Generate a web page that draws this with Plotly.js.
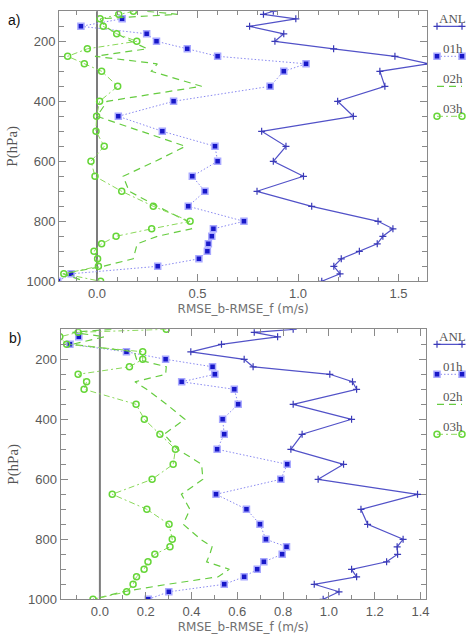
<!DOCTYPE html>
<html>
<head>
<meta charset="utf-8">
<script src="https://cdn.plot.ly/plotly-3.0.1.min.js"></script>
<style>
  html, body { margin: 0; padding: 0; background: #ffffff; }
  #chart { width: 473px; height: 639px; }
</style>
</head>
<body>
<div id="chart"></div>
<script>
// Pressure levels (hPa) shared by every profile
const levels = [100, 110, 125, 150, 175, 200, 225, 250, 275, 300, 350, 400, 450, 500,
                550, 600, 650, 700, 750, 800, 825, 850, 875, 900, 925, 950, 975, 1000];

// Series names, in legend order
const seriesNames = ['ANL', '01h', '02h', '03h'];

// Panel a) RMSE_b - RMSE_f (m/s)
const a_ANL = [0.877, 0.828, 0.989, 0.759, 0.929, 0.885, 1.177, 1.482, 1.648, 1.407, 1.432, 1.197, 1.275, 0.819,
               0.940, 0.877, 1.027, 0.796, 1.068, 1.398, 1.472, 1.422, 1.394, 1.305, 1.215, 1.178, 1.209, 1.118];
const a_01h = [null, null, 0.125, -0.080, 0.247, 0.296, 0.449, 0.600, 1.040, 0.929, 0.861, 0.381, 0.106, 0.325,
               0.587, 0.600, 0.474, 0.537, 0.454, 0.731, 0.579, 0.571, 0.554, 0.549, 0.507, 0.302, -0.129, -0.195];
const a_02h = [0.250, 0.400, 0.015, 0.040, 0.100, 0.170, 0.250, -0.010, 0.300, 0.270, 0.520, 0.050, 0.000, 0.220,
               0.440, 0.290, 0.130, 0.160, 0.300, 0.450, 0.470, 0.300, 0.200, 0.190, 0.180, 0.030, -0.170, -0.060];
const a_03h = [0.181, 0.108, 0.015, 0.031, 0.098, 0.198, -0.048, -0.146, -0.063, 0.023, 0.103, 0.013, -0.002, -0.005,
               0.036, -0.030, -0.010, 0.123, 0.280, 0.463, 0.272, 0.095, 0.023, -0.015, 0.003, 0.007, -0.165, 0.018];

// Panel b) RMSE_b - RMSE_f (m/s)
const b_ANL = [0.844, 0.674, 0.776, 0.531, 0.397, 0.630, 0.669, 1.004, 1.103, 1.121, 0.844, 1.099, 0.883, 0.834,
               1.064, 0.953, 1.387, 1.140, 1.169, 1.324, 1.298, 1.300, 1.252, 1.099, 1.121, 0.936, 1.044, 0.975];
const b_01h = [null, null, -0.092, -0.131, 0.116, 0.287, 0.492, 0.502, 0.357, 0.587, 0.604, 0.536, 0.543, 0.512,
               0.818, 0.790, 0.507, 0.640, 0.699, 0.725, 0.815, 0.796, 0.716, 0.687, 0.630, 0.543, 0.301, 0.211];
const b_02h = [0.050, -0.120, 0.020, -0.120, 0.150, 0.160, 0.290, 0.287, 0.153, 0.204, 0.291, 0.371, 0.280, 0.340,
               0.444, 0.450, 0.356, 0.393, 0.364, 0.440, 0.490, 0.480, 0.466, 0.565, 0.517, 0.295, 0.100, -0.030];
const b_03h = [0.290, -0.095, -0.175, -0.145, 0.187, 0.187, 0.129, -0.095, -0.058, -0.069, 0.158, 0.194, 0.262, 0.330,
               0.320, 0.228, 0.054, 0.205, 0.302, 0.316, 0.306, 0.240, 0.210, 0.193, 0.160, 0.145, 0.117, -0.030];

// Axis tick values
const xTicksA = [0.0, 0.5, 1.0, 1.5];
const xTicksB = [0.0, 0.2, 0.4, 0.6, 0.8, 1.0, 1.2, 1.4];
const yTicks = [200, 400, 600, 800, 1000];

// Line and marker styles per series
const styles = {
  'ANL': { mode: 'lines+markers',
           line: { color: '#5252c8', width: 1.2, dash: 'solid' },
           marker: { symbol: 'cross-thin', size: 5, line: { color: '#3a3ab8', width: 1.2 } } },
  '01h': { mode: 'lines+markers',
           line: { color: '#8a8af0', width: 1, dash: '1.5px,2px' },
           marker: { symbol: 'square', size: 6, color: '#1818c8', line: { color: '#a8a8ff', width: 1.5 } } },
  '02h': { mode: 'lines',
           line: { color: '#66cc40', width: 1.2, dash: '7px,5px' } },
  '03h': { mode: 'lines+markers',
           line: { color: '#8ad85a', width: 1, dash: '6px,3px,2px,3px' },
           marker: { symbol: 'circle-open', size: 6, color: '#66d638', line: { width: 1.5 } } }
};

const W = 473, H = 639;
const px = v => v / W;          // horizontal pixel -> paper fraction
const py = v => 1 - v / H;      // vertical pixel -> paper fraction

const frameColor = '#8a8a8a';
const tickFont = { family: 'Liberation Sans, Arial, sans-serif', size: 13, color: '#5a5a5a' };
const xTitleFont = { family: 'DejaVu Sans, sans-serif', size: 12, color: '#707070' };
const yTitleFont = { family: 'Liberation Serif, Times New Roman, serif', size: 15, color: '#555555' };
const legendFont = { family: 'Liberation Serif, Times New Roman, serif', size: 13, color: '#555555' };

function profileTraces(data, xa, ya) {
  return seriesNames.map((name, i) => Object.assign({
    type: 'scatter', name: name, x: data[i], y: levels,
    xaxis: xa, yaxis: ya, connectgaps: true, showlegend: false, hoverinfo: 'skip'
  }, JSON.parse(JSON.stringify(styles[name]))));
}

// Legend samples: a short line per series, with markers at both ends
function legendTraces(xa, ya) {
  return seriesNames.map((name, i) => Object.assign({
    type: 'scatter', x: [0, 1], y: [i + 0.5, i + 0.5],
    xaxis: xa, yaxis: ya, showlegend: false, hoverinfo: 'skip', cliponaxis: false
  }, JSON.parse(JSON.stringify(styles[name]))));
}

function xAxis(domain, range, ticks, minorStep, anchor, showTitle) {
  return {
    domain: domain, range: range, anchor: anchor,
    tickvals: ticks, ticktext: ticks.map(t => t.toFixed(1)),
    ticks: 'inside', ticklen: 7, tickwidth: 1, tickcolor: frameColor,
    minor: { ticks: 'inside', ticklen: 4, tickwidth: 1, tickcolor: frameColor,
             tick0: 0, dtick: minorStep, showgrid: false },
    showline: true, linecolor: frameColor, linewidth: 1, mirror: 'allticks',
    showgrid: false, zeroline: false, tickfont: tickFont,
    title: showTitle ? { text: 'RMSE_b-RMSE_f (m/s)', font: xTitleFont, standoff: 4 } : undefined
  };
}

function yAxis(domain, anchor) {
  return {
    domain: domain, range: [1000, 100], anchor: anchor,
    tickvals: yTicks, ticktext: yTicks.map(String),
    ticks: 'inside', ticklen: 7, tickwidth: 1, tickcolor: frameColor,
    minor: { ticks: 'inside', ticklen: 5, tickwidth: 1, tickcolor: frameColor,
             tick0: 0, dtick: 50, showgrid: false },
    showline: true, linecolor: frameColor, linewidth: 1, mirror: 'allticks',
    showgrid: false, zeroline: false, tickfont: tickFont,
    title: { text: 'P(hPa)', font: yTitleFont, standoff: 5 }
  };
}

function legendAxes(topPx) {
  return [
    { domain: [px(437), px(462)], range: [0, 1], visible: false, fixedrange: true },
    { domain: [py(topPx + 120), py(topPx)], range: [4, 0], visible: false, fixedrange: true }
  ];
}

const traces = []
  .concat(profileTraces([a_ANL, a_01h, a_02h, a_03h], 'x', 'y'))
  .concat(profileTraces([b_ANL, b_01h, b_02h, b_03h], 'x2', 'y2'))
  .concat(legendTraces('x3', 'y3'))
  .concat(legendTraces('x4', 'y4'));

const topA = 11.3, botA = 281.3;
const topB = 329.3, botB = 599.3;
const legA = legendAxes(topA), legB = legendAxes(topB);

const annotations = [
  { text: 'a)', xref: 'paper', yref: 'paper', x: px(6), y: py(20), xanchor: 'left', yanchor: 'middle',
    showarrow: false, font: { family: 'Liberation Sans, Arial, sans-serif', size: 14, color: '#111' } },
  { text: 'b)', xref: 'paper', yref: 'paper', x: px(7), y: py(338), xanchor: 'left', yanchor: 'middle',
    showarrow: false, font: { family: 'Liberation Sans, Arial, sans-serif', size: 14, color: '#111' } }
];
[['x3', 'y3'], ['x4', 'y4']].forEach(([xa, ya]) => {
  seriesNames.forEach((name, i) => {
    annotations.push({ text: name, xref: xa, yref: ya, x: 0.62, y: i + 0.24,
      xanchor: 'center', yanchor: 'middle', showarrow: false, font: legendFont });
  });
});

// Vertical reference line at zero difference
const zeroLine = (xa, ya) => ({ type: 'line', xref: xa, yref: ya + ' domain', x0: 0, x1: 0, y0: 0, y1: 1,
  line: { color: '#7c7c7c', width: 2 }, layer: 'below' });

const layout = {
  width: W, height: H,
  margin: { l: 0, r: 0, t: 0, b: 0 },
  paper_bgcolor: '#ffffff', plot_bgcolor: '#ffffff',
  showlegend: false,
  xaxis: xAxis([px(59), px(427.3)], [-0.189, 1.643], xTicksA, 0.1, 'y', true),
  yaxis: yAxis([py(botA), py(topA)], 'x'),
  xaxis2: xAxis([px(60.5), px(426)], [-0.172, 1.424], xTicksB, 0.1, 'y2', true),
  yaxis2: yAxis([py(botB), py(topB)], 'x2'),
  xaxis3: Object.assign({ anchor: 'y3' }, legA[0]),
  yaxis3: Object.assign({ anchor: 'x3' }, legA[1]),
  xaxis4: Object.assign({ anchor: 'y4' }, legB[0]),
  yaxis4: Object.assign({ anchor: 'x4' }, legB[1]),
  shapes: [zeroLine('x', 'y'), zeroLine('x2', 'y2')],
  annotations: annotations
};

Plotly.newPlot('chart', traces, layout, { displayModeBar: false, staticPlot: true });
</script>
</body>
</html>
